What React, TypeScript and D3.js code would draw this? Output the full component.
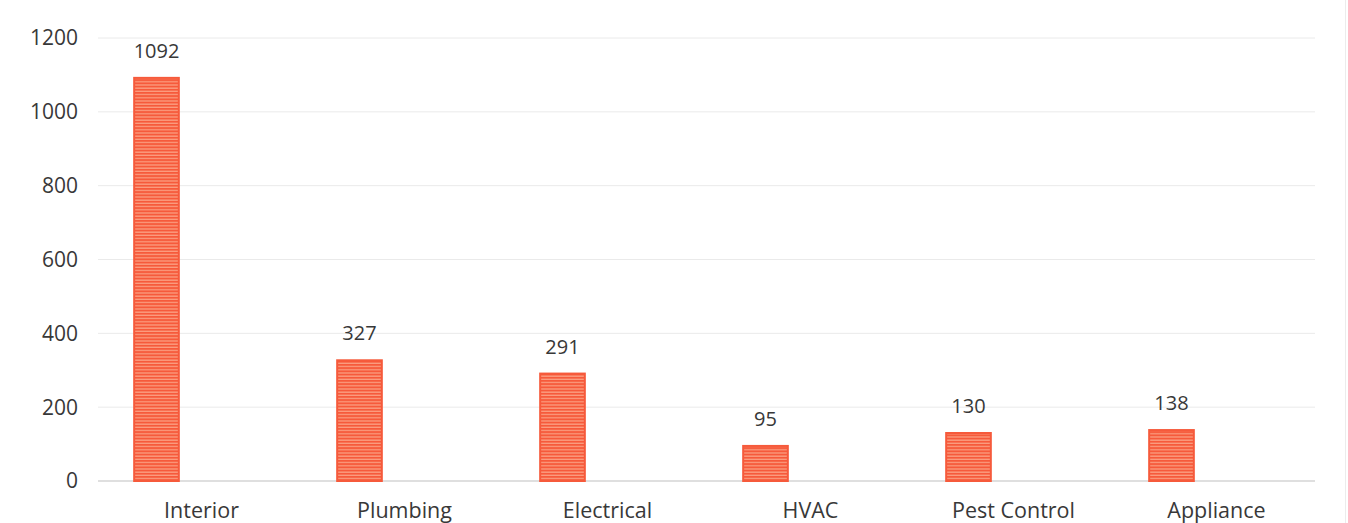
import React from "react";
import * as d3 from "d3";

// Work orders by trade
const categories: string[] = ["Interior", "Plumbing", "Electrical", "HVAC", "Pest Control", "Appliance"];
const counts: number[] = [1092, 327, 291, 95, 130, 138];
const yTicks: number[] = [0, 200, 400, 600, 800, 1000, 1200];

const W = 1348;
const H = 523;
const FONT = "'Open Sans', 'Noto Sans', sans-serif";
const TEXT = "#383838";
const BAR = "#f65a3b";
const STRIPE = "#fca98c";

export default function App() {
  const x = d3
    .scaleBand<string>()
    .domain(categories)
    .range([55, 1273])
    .paddingInner(0.78)
    .paddingOuter(0.39);
  const y = d3.scaleLinear().domain([0, 1200]).range([481, 38]);
  const bw = x.bandwidth();

  return (
    <svg
      width={W}
      height={H}
      viewBox={`0 0 ${W} ${H}`}
      style={{ position: "absolute", left: 0, top: 0, display: "block", background: "#fff" }}
    >
      <defs>
        <pattern id="stripes" patternUnits="userSpaceOnUse" width={6} height={3.2}>
          <rect width={6} height={3.2} fill={BAR} />
          <rect y={1.2} width={6} height={1.1} fill={STRIPE} />
        </pattern>
      </defs>

      {/* faint frame edge */}
      <line x1={1345.5} x2={1345.5} y1={0} y2={H} stroke="#ececec" strokeWidth={1} />

      {/* gridlines */}
      {yTicks.map((t) => (
        <line
          key={`g${t}`}
          x1={98}
          x2={1315}
          y1={y(t)}
          y2={y(t)}
          stroke={t === 0 ? "#d4d4d4" : "#eaeaea"}
          strokeWidth={t === 0 ? 1.5 : 1}
        />
      ))}

      {/* y tick labels */}
      {yTicks.map((t) => (
        <text
          key={`t${t}`}
          x={78}
          y={y(t)}
          dy="0.35em"
          textAnchor="end"
          fontFamily={FONT}
          fontSize={21}
          fill={TEXT}
        >
          {t}
        </text>
      ))}

      {/* bars */}
      {categories.map((c, i) => {
        const x0 = x(c) as number;
        const top = y(counts[i]);
        return (
          <g key={c}>
            <rect
              x={x0}
              y={top}
              width={bw}
              height={y(0) - top}
              fill="url(#stripes)"
              stroke={BAR}
              strokeWidth={2}
            />
            <text
              x={x0 + bw / 2}
              y={top - 20}
              textAnchor="middle"
              fontFamily={FONT}
              fontSize={20}
              fill={TEXT}
            >
              {counts[i]}
            </text>
            <text
              x={x0 + bw / 2 + 45}
              y={518}
              textAnchor="middle"
              fontFamily={FONT}
              fontSize={21.5}
              fill={TEXT}
            >
              {c}
            </text>
          </g>
        );
      })}
    </svg>
  );
}
